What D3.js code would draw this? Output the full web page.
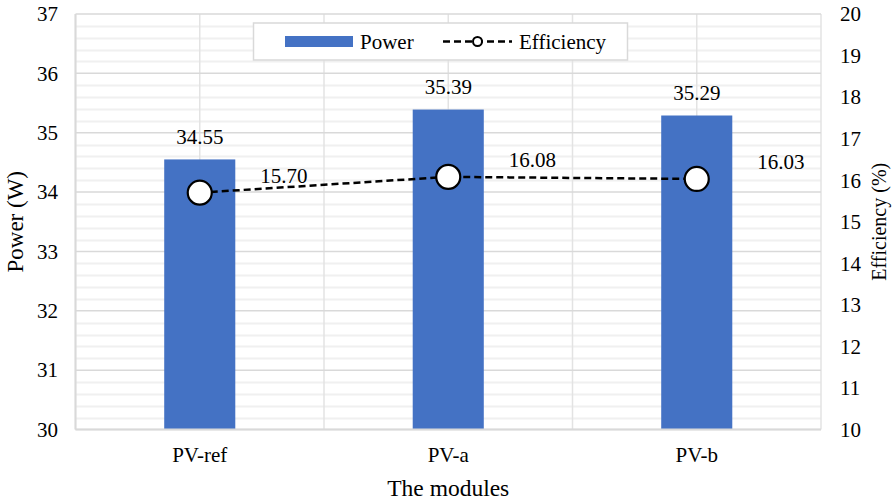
<!DOCTYPE html>
<html>
<head>
<meta charset="utf-8">
<script src="https://cdn.jsdelivr.net/npm/d3@7/dist/d3.min.js"></script>
<style>
  html, body { margin: 0; padding: 0; background: #fff; }
</style>
</head>
<body>
<svg id="chart" width="892" height="501"></svg>
<script>
// Module labels and measured values
const categories = ["PV-ref", "PV-a", "PV-b"];
const powerValues = [34.55, 35.39, 35.29];       // W
const efficiencyValues = [15.70, 16.08, 16.03];  // %
const powerTicks = [30, 31, 32, 33, 34, 35, 36, 37];
const efficiencyTicks = [10, 11, 12, 13, 14, 15, 16, 17, 18, 19, 20];

const serif = "'Liberation Serif', 'Times New Roman', Times, 'DejaVu Serif', serif";
const svg = d3.select("#chart").attr("font-family", serif).style("font-family", serif);
const plot = { left: 75.5, right: 821, top: 14, bottom: 429.5 };

const x = d3.scaleBand().domain(categories).range([plot.left, plot.right]);
const yPower = d3.scaleLinear().domain([30, 37]).range([plot.bottom, plot.top]);
const yEff = d3.scaleLinear().domain([10, 20]).range([plot.bottom, plot.top]);

const barColor = "#4472c4";
const fontSize = 21;

// Minor horizontal gridlines (0.2 W)
const minor = d3.range(30, 37.001, 0.2).filter(v => Math.abs(v - Math.round(v)) > 1e-6);
svg.append("g").selectAll("line").data(minor).join("line")
  .attr("x1", plot.left).attr("x2", plot.right)
  .attr("y1", d => Math.round(yPower(d)) + 0.5).attr("y2", d => Math.round(yPower(d)) + 0.5)
  .attr("stroke", "#f0f0f0").attr("stroke-width", 2);

// Vertical gridlines at category centres and boundaries
const vLines = [];
categories.forEach(c => {
  vLines.push(x(c));
  vLines.push(x(c) + x.bandwidth() / 2);
});
vLines.push(plot.right);
svg.append("g").selectAll("line").data(vLines).join("line")
  .attr("x1", d => d).attr("x2", d => d)
  .attr("y1", plot.top).attr("y2", plot.bottom)
  .attr("stroke", "#e3e3e3").attr("stroke-width", 1.5);

// Major horizontal gridlines (1 W)
svg.append("g").selectAll("line").data(powerTicks).join("line")
  .attr("x1", plot.left).attr("x2", plot.right)
  .attr("y1", d => yPower(d)).attr("y2", d => yPower(d))
  .attr("stroke", "#d9d9d9").attr("stroke-width", 1.5);

// Left axis line
svg.append("line")
  .attr("x1", plot.left).attr("x2", plot.left)
  .attr("y1", plot.top).attr("y2", plot.bottom)
  .attr("stroke", "#d9d9d9").attr("stroke-width", 2);

// Power bars
const barW = x.bandwidth() * 0.286;
svg.append("g").selectAll("rect").data(categories).join("rect")
  .attr("x", d => x(d) + x.bandwidth() / 2 - barW / 2)
  .attr("width", barW)
  .attr("y", (d, i) => yPower(powerValues[i]))
  .attr("height", (d, i) => plot.bottom - yPower(powerValues[i]))
  .attr("fill", barColor);

// Bottom axis line
svg.append("line")
  .attr("x1", plot.left).attr("x2", plot.right)
  .attr("y1", plot.bottom).attr("y2", plot.bottom)
  .attr("stroke", "#d9d9d9").attr("stroke-width", 2);

// Power value labels
svg.append("g").selectAll("text").data(categories).join("text")
  .attr("x", d => x(d) + x.bandwidth() / 2)
  .attr("y", (d, i) => yPower(powerValues[i]) - 15.5)
  .attr("text-anchor", "middle")
  .attr("font-size", fontSize).attr("fill", "#000")
  .text((d, i) => powerValues[i].toFixed(2));

// Efficiency line
const cx = d => x(d) + x.bandwidth() / 2;
const line = d3.line().x(d => cx(d)).y((d, i) => yEff(efficiencyValues[i]));
svg.append("path").datum(categories)
  .attr("d", line)
  .attr("fill", "none").attr("stroke", "#000")
  .attr("stroke-width", 2.5).attr("stroke-dasharray", "7,4");

svg.append("g").selectAll("circle").data(categories).join("circle")
  .attr("cx", cx)
  .attr("cy", (d, i) => yEff(efficiencyValues[i]))
  .attr("r", 12)
  .attr("fill", "#fff").attr("stroke", "#000").attr("stroke-width", 2.2);

// Efficiency value labels, to the right of each marker
svg.append("g").selectAll("text").data(categories).join("text")
  .attr("x", d => cx(d) + 84)
  .attr("y", (d, i) => yEff(efficiencyValues[i]) - 10)
  .attr("text-anchor", "middle")
  .attr("font-size", fontSize).attr("fill", "#000")
  .text((d, i) => efficiencyValues[i].toFixed(2));

// Left tick labels
svg.append("g").selectAll("text").data(powerTicks).join("text")
  .attr("x", 58)
  .attr("y", d => yPower(d))
  .attr("dy", "0.35em")
  .attr("text-anchor", "end")
  .attr("font-size", fontSize).attr("fill", "#000")
  .text(d => d);

// Right tick labels
svg.append("g").selectAll("text").data(efficiencyTicks).join("text")
  .attr("x", 840)
  .attr("y", d => yEff(d))
  .attr("dy", "0.35em")
  .attr("text-anchor", "start")
  .attr("font-size", fontSize).attr("fill", "#000")
  .text(d => d);

// Category labels
svg.append("g").selectAll("text").data(categories).join("text")
  .attr("x", cx)
  .attr("y", 462)
  .attr("text-anchor", "middle")
  .attr("font-size", fontSize).attr("fill", "#000")
  .text(d => d);

// Axis titles
svg.append("text")
  .attr("x", (plot.left + plot.right) / 2).attr("y", 496)
  .attr("text-anchor", "middle")
  .attr("font-size", 23.5).attr("fill", "#000")
  .text("The modules");

svg.append("text")
  .attr("transform", `translate(23,${(plot.top + plot.bottom) / 2}) rotate(-90)`)
  .attr("text-anchor", "middle")
  .attr("font-size", 23).attr("fill", "#000")
  .text("Power (W)");

svg.append("text")
  .attr("transform", `translate(886,${(plot.top + plot.bottom) / 2}) rotate(-90)`)
  .attr("text-anchor", "middle")
  .attr("font-size", 20).attr("fill", "#000")
  .text("Efficiency (%)");

// Legend
const legend = svg.append("g");
legend.append("rect")
  .attr("x", 253.5).attr("y", 23).attr("width", 374).attr("height", 37)
  .attr("fill", "#fff").attr("stroke", "#d9d9d9").attr("stroke-width", 1.5);
legend.append("rect")
  .attr("x", 285).attr("y", 36).attr("width", 68).attr("height", 11)
  .attr("fill", barColor);
legend.append("text")
  .attr("x", 360).attr("y", 49)
  .attr("font-size", fontSize).attr("fill", "#000")
  .text("Power");
legend.append("line")
  .attr("x1", 443).attr("x2", 512).attr("y1", 41.5).attr("y2", 41.5)
  .attr("stroke", "#000").attr("stroke-width", 2.5).attr("stroke-dasharray", "7,4");
legend.append("circle")
  .attr("cx", 477.5).attr("cy", 41.5).attr("r", 4.5)
  .attr("fill", "#fff").attr("stroke", "#000").attr("stroke-width", 2);
legend.append("text")
  .attr("x", 519).attr("y", 49)
  .attr("font-size", fontSize).attr("fill", "#000")
  .text("Efficiency");
</script>
</body>
</html>
